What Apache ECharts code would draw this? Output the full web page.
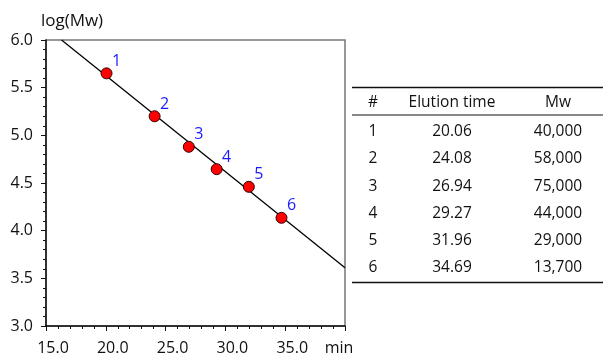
<!DOCTYPE html>
<html>
<head>
<meta charset="utf-8">
<script src="https://cdn.jsdelivr.net/npm/echarts@6/dist/echarts.min.js"></script>
<style>
  html, body { margin: 0; padding: 0; background: #fff; }
  #chart { width: 604px; height: 356px; }
</style>
</head>
<body>
<div id="chart"></div>
<script>
// 标准样品点 (elution time, log Mw)
const pointIds = ['1', '2', '3', '4', '5', '6'];
const elutionTimes = [20.06, 24.08, 26.94, 29.27, 31.96, 34.69];
const logMw = [5.65, 5.20, 4.88, 4.645, 4.46, 4.135];

// 校准直线两端
const fitX = [16.3, 40];
const fitY = [6.0, 3.61];

// 表格内容
const tableHeader = ['#', 'Elution time', 'Mw'];
const tableNums = ['1', '2', '3', '4', '5', '6'];
const tableTimes = ['20.06', '24.08', '26.94', '29.27', '31.96', '34.69'];
const tableMw = ['40,000', '58,000', '75,000', '44,000', '29,000', '13,700'];

const FONT = '"Open Sans", "Noto Sans", sans-serif';

const chart = echarts.init(document.getElementById('chart'));

// 表格用 graphic 画
const colX = [373, 452, 558];
const rowY0 = 131.5;
const rowStep = 27.3;
const graphics = [];
const line = (y, w) => ({
  type: 'line',
  shape: { x1: 352, y1: y, x2: 603, y2: y },
  style: { stroke: '#111', lineWidth: w }
});
graphics.push(line(87.5, 1.5), line(115, 1), line(282.5, 1.5));
tableHeader.forEach((t, i) => {
  graphics.push({
    type: 'text', x: colX[i], y: 103,
    style: { text: t, font: '15.5px ' + FONT, fill: '#111', align: 'center', verticalAlign: 'middle' }
  });
});
[tableNums, tableTimes, tableMw].forEach((col, ci) => {
  col.forEach((t, ri) => {
    graphics.push({
      type: 'text', x: colX[ci], y: rowY0 + ri * rowStep,
      style: { text: t, font: '15.5px ' + FONT, fill: '#111', align: 'center', verticalAlign: 'middle' }
    });
  });
});

chart.setOption({
  animation: false,
  grid: {
    left: 46, right: 259, top: 40, bottom: 30,
    show: true, borderColor: '#777', borderWidth: 1.5
  },
  xAxis: {
    type: 'value', min: 15, max: 40, interval: 5,
    axisLine: { lineStyle: { color: '#111', width: 1.5 } },
    axisTick: { length: 5, lineStyle: { color: '#111' } },
    minorTick: { show: true, splitNumber: 5, length: 3, lineStyle: { color: '#111' } },
    splitLine: { show: false },
    axisLabel: {
      color: '#111', fontSize: 16, fontFamily: FONT, margin: 14,
      showMaxLabel: true,
      formatter: v => v === 40 ? '{m|min}' : '{n|' + v.toFixed(1) + '}',
      rich: {
        n: { fontSize: 16, fontFamily: FONT, color: '#111', padding: [0, 0, 0, 14] },
        m: { fontSize: 16, fontFamily: FONT, color: '#111', padding: [0, 12, 0, 0] }
      }
    }
  },
  yAxis: {
    type: 'value', min: 3, max: 6, interval: 0.5,
    name: 'log(Mw)', nameLocation: 'end', nameGap: 10,
    nameTextStyle: { color: '#111', fontSize: 17, fontFamily: FONT, padding: [0, 0, 0, 52] },
    axisLine: { show: true, lineStyle: { color: '#111', width: 1.5 } },
    axisTick: { show: true, length: 5, lineStyle: { color: '#111' } },
    minorTick: { show: true, splitNumber: 5, length: 3, lineStyle: { color: '#111' } },
    splitLine: { show: false },
    axisLabel: {
      color: '#111', fontSize: 16, fontFamily: FONT, margin: 13,
      formatter: v => v.toFixed(1)
    }
  },
  series: [
    {
      type: 'line',
      data: fitX.map((x, i) => [x, fitY[i]]),
      symbol: 'none',
      lineStyle: { color: '#000', width: 1.3 },
      z: 2
    },
    {
      type: 'scatter',
      data: elutionTimes.map((x, i) => ({ value: [x, logMw[i]], name: pointIds[i] })),
      symbolSize: 11,
      itemStyle: { color: '#ff0000', borderColor: '#300', borderWidth: 1, opacity: 1 },
      label: {
        show: true, position: 'inside', offset: [10, -12],
        formatter: p => p.name,
        color: '#1a1aff', fontSize: 16, fontFamily: FONT
      },
      z: 3
    }
  ],
  graphic: graphics
});
</script>
</body>
</html>
